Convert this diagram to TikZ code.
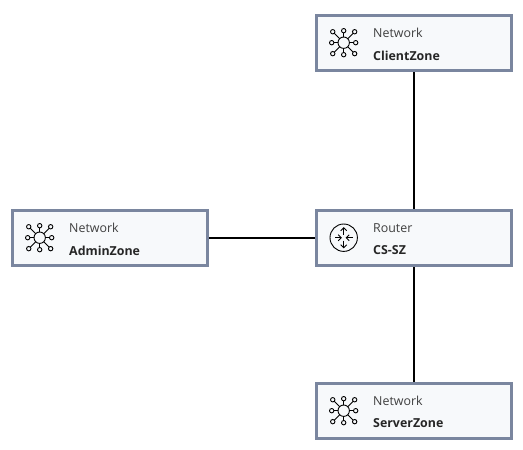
\documentclass[tikz,border=0pt]{standalone}
\usepackage{fontspec}
\setmainfont{Open Sans}
\definecolor{boxedge}{HTML}{7A869F}
\definecolor{boxfill}{HTML}{F7F9FB}
\definecolor{labelgrey}{HTML}{3F3F3F}
\definecolor{namegrey}{HTML}{262626}
\tikzset{
  x=1pt,y=-1pt,
  devicebox/.style={draw=boxedge,fill=boxfill,line width=3pt,minimum width=195pt,minimum height=55pt,inner sep=0pt},
  kindlabel/.style={anchor=west,inner sep=0pt,text=labelgrey,font=\fontsize{12.4}{14}\selectfont},
  namelabel/.style={anchor=west,inner sep=0pt,text=namegrey,font=\fontsize{12.4}{14}\selectfont\bfseries},
  link/.style={draw=black,line width=2pt},
  icon/.style={draw=black,line width=0.9pt},
  pics/neticon/.style={code={
    \draw[icon] (0,0) circle[radius=5.7];
    \foreach \a/\r in {0/12,45/15.5,90/12,135/15.5,180/12,225/15.5,270/12,315/15.5}{
      \draw[icon] (\a:5.7) -- (\a:\r-2.2);
      \draw[icon] (\a:\r) circle[radius=2.2];
    }
  }},
  pics/routericon/.style={code={
    \draw[icon] (0,0) circle[radius=13.7];
    \foreach \a in {0,180}{
      \draw[icon,rotate=\a] (2.5,0) -- (9,0);
      \draw[icon,rotate=\a] (5.5,-3) -- (2.5,0) -- (5.5,3);
    }
    \foreach \a in {90,270}{
      \draw[icon,rotate=\a] (3,0) -- (10,0);
      \draw[icon,rotate=\a] (7,-3) -- (10,0) -- (7,3);
    }
  }}
}
\begin{document}
\begin{tikzpicture}
\useasboundingbox (0,0) rectangle (523,450);
\node[devicebox] (client) at (414,43) {};
\node[devicebox] (router) at (414,238) {};
\node[devicebox] (admin) at (110,238) {};
\node[devicebox] (server) at (414,411) {};
\draw[link] (client) -- (router);
\draw[link] (admin) -- (router);
\draw[link] (router) -- (server);
\pic at (343.7,42.7) {neticon};
\pic at (39.7,237.7) {neticon};
\pic at (343.7,410.7) {neticon};
\pic at (343.7,237.7) {routericon};
\node[kindlabel] (clientkind) at (373,33) {Network};
\node[namelabel] (clientname) at (373,55.5) {ClientZone};
\node[kindlabel] (routerkind) at (373,228) {Router};
\node[namelabel] (routername) at (373,250.5) {CS-SZ};
\node[kindlabel] (adminkind) at (69,228) {Network};
\node[namelabel] (adminname) at (69,250.5) {AdminZone};
\node[kindlabel] (serverkind) at (373,401) {Network};
\node[namelabel] (servername) at (373,423.5) {ServerZone};
\end{tikzpicture}
\end{document}
